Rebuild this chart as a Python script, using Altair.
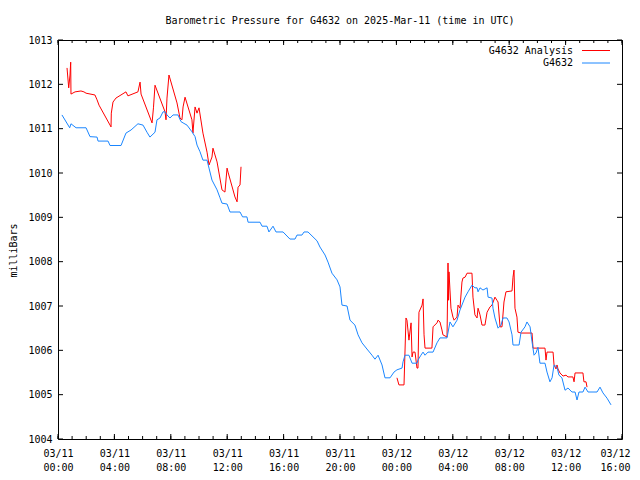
import altair as alt
import pandas as pd

# ---------------- data (hours after 2025-03-11 00:00 UTC, pressure in mb) -------------
obs_hours = [0.28, 0.83, 0.92, 1.28, 1.99, 2.27, 2.77, 2.84, 3.55, 3.69, 4.47, 4.82, 5.18, 5.67,
             6.03, 6.31, 6.52, 6.88, 7.02, 7.23, 7.45, 7.59, 7.73, 7.94, 8.16, 8.51, 8.72, 8.87,
             9.15, 9.50, 9.72, 9.86, 10.07, 10.28, 10.57, 10.71, 10.92, 11.28, 11.49, 11.63,
             11.99, 12.20, 12.91, 13.09, 13.40, 13.48, 14.33, 14.47, 14.82, 14.96, 15.25, 15.46,
             15.96, 16.45, 16.81, 16.95, 17.30, 17.45, 17.73, 18.37, 18.58, 18.94, 19.15, 19.43,
             19.79, 20.00, 20.14, 20.50, 20.71, 21.06, 21.28, 21.56, 21.91, 22.27, 22.48, 22.70,
             22.98, 23.19, 23.55, 23.83, 24.04, 24.40, 24.47, 24.61, 24.89, 25.11, 25.46, 25.53,
             25.74, 25.89, 26.03, 26.24, 26.60, 26.88, 27.09, 27.59, 27.80, 28.01, 28.30, 28.51,
             28.87, 29.08, 29.36, 29.57, 29.72, 29.79, 29.93, 30.14, 30.43, 30.50, 30.78, 30.85,
             30.99, 31.21, 31.42, 31.56, 31.84, 31.99, 32.20, 32.27, 32.70, 32.84, 33.12, 33.26,
             33.48, 33.62, 33.76, 33.90, 34.04, 34.18, 34.54, 34.68, 34.89, 35.04, 35.18, 35.39,
             35.53, 35.74, 35.96, 36.17, 36.45, 36.67, 36.81, 36.95, 37.23, 37.38, 37.59, 38.23,
             38.44, 38.65, 38.94, 39.22]
obs_press = [1011.31, 1011.02, 1011.11, 1011.02, 1011.02, 1010.82, 1010.81, 1010.72, 1010.72,
             1010.62, 1010.62, 1010.90, 1010.97, 1011.11, 1011.08, 1010.92, 1010.81, 1010.92,
             1011.20, 1011.24, 1011.38, 1011.38, 1011.31, 1011.24, 1011.31, 1011.31, 1011.16,
             1011.13, 1011.08, 1010.93, 1010.82, 1010.63, 1010.48, 1010.29, 1010.29, 1010.11,
             1009.84, 1009.62, 1009.44, 1009.32, 1009.30, 1009.12, 1009.12, 1009.01, 1009.01,
             1008.89, 1008.89, 1008.80, 1008.80, 1008.67, 1008.80, 1008.67, 1008.67, 1008.51,
             1008.51, 1008.60, 1008.60, 1008.67, 1008.67, 1008.47, 1008.33, 1008.15, 1007.99,
             1007.74, 1007.59, 1007.43, 1007.02, 1007.00, 1006.68, 1006.57, 1006.35, 1006.17,
             1006.03, 1005.89, 1005.80, 1005.89, 1005.67, 1005.38, 1005.38, 1005.51, 1005.56,
             1005.60, 1005.74, 1005.89, 1005.89, 1005.71, 1005.71, 1005.78, 1005.89, 1005.96,
             1005.89, 1005.96, 1005.96, 1006.17, 1006.28, 1006.28, 1006.64, 1006.53, 1006.68,
             1006.91, 1007.20, 1007.32, 1007.47, 1007.41, 1007.41, 1007.32, 1007.41, 1007.36,
             1007.41, 1007.20, 1007.18, 1006.95, 1006.73, 1006.50, 1006.57, 1006.73, 1006.73,
             1006.64, 1006.35, 1006.12, 1006.12, 1006.41, 1006.53, 1006.64, 1006.53, 1006.19,
             1005.89, 1005.94, 1006.07, 1005.71, 1005.71, 1005.51, 1005.29, 1005.38, 1005.67,
             1005.62, 1005.44, 1005.38, 1005.10, 1005.15, 1005.06, 1005.06, 1004.88, 1005.06,
             1005.06, 1005.17, 1005.06, 1005.06, 1005.17, 1005.04, 1004.92, 1004.77]

ana1_hours = [0.64, 0.76, 0.85, 0.90, 0.92, 1.21, 1.63, 1.84, 1.99, 2.62, 2.77, 2.91, 3.76, 3.78,
              3.90, 4.11, 4.82, 4.96, 5.67, 5.82, 5.89, 6.67, 6.77, 6.88, 7.59, 7.66, 7.73, 7.87,
              8.44, 8.65, 8.79, 8.87, 9.01, 9.50, 9.57, 9.72, 9.86, 10.00, 10.28, 10.57, 10.71,
              10.92, 10.99, 11.28, 11.63, 11.84, 11.99, 12.06, 12.55, 12.70, 12.77, 12.91, 12.98]
ana1_press = [1012.37, 1011.92, 1012.21, 1012.50, 1011.78, 1011.83, 1011.85, 1011.83, 1011.80,
              1011.76, 1011.65, 1011.53, 1011.04, 1011.35, 1011.60, 1011.69, 1011.83, 1011.74,
              1011.83, 1012.05, 1011.78, 1011.13, 1011.47, 1011.98, 1011.38, 1011.20, 1011.69,
              1012.21, 1011.58, 1011.24, 1011.20, 1011.49, 1011.71, 1011.20, 1010.90, 1011.49,
              1011.35, 1011.47, 1010.90, 1010.47, 1010.18, 1010.36, 1010.56, 1010.25, 1009.62,
              1009.57, 1010.11, 1010.02, 1009.46, 1009.35, 1009.68, 1009.73, 1010.14]

ana2_hours = [24.04, 24.18, 24.54, 24.68, 24.75, 24.89, 25.04, 25.11, 25.18, 25.32, 25.46, 25.53,
              25.60, 25.82, 25.89, 25.96, 26.03, 26.52, 26.60, 26.88, 26.95, 27.09, 27.23, 27.30,
              27.59, 27.66, 27.70, 27.73, 27.80, 27.87, 28.01, 28.09, 28.30, 28.37, 28.51, 28.65,
              28.72, 28.87, 29.01, 29.36, 29.43, 29.57, 29.72, 29.79, 29.93, 30.07, 30.28, 30.43,
              30.64, 30.78, 30.99, 31.13, 31.21, 31.35, 31.49, 31.63, 31.77, 32.20, 32.27, 32.34,
              32.41, 32.55, 32.62, 32.84, 33.62, 33.69, 34.54, 34.61, 34.68, 35.11, 35.18, 35.32,
              35.39, 35.46, 35.60, 35.82, 36.03, 36.17, 36.52, 36.60, 36.67, 37.23, 37.30, 37.45,
              37.52]
ana2_press = [1005.38, 1005.22, 1005.22, 1006.73, 1006.68, 1006.23, 1006.62, 1005.85, 1005.96,
              1005.96, 1005.60, 1005.60, 1006.86, 1007.02, 1007.16, 1006.35, 1006.05, 1006.05,
              1006.53, 1006.62, 1006.68, 1006.64, 1006.46, 1006.35, 1006.30, 1007.97, 1007.13,
              1007.77, 1007.36, 1006.95, 1006.75, 1006.68, 1006.75, 1007.02, 1006.95, 1007.54,
              1007.63, 1007.65, 1007.74, 1007.74, 1007.20, 1006.80, 1006.73, 1006.95, 1006.80,
              1006.57, 1006.57, 1006.86, 1006.98, 1007.02, 1007.20, 1007.13, 1007.09, 1006.53,
              1006.53, 1007.09, 1007.32, 1007.34, 1007.65, 1007.81, 1006.95, 1006.75, 1006.41,
              1006.39, 1006.39, 1006.05, 1006.05, 1005.78, 1005.96, 1005.96, 1005.67, 1005.58,
              1005.67, 1005.58, 1005.49, 1005.42, 1005.44, 1005.40, 1005.40, 1005.29, 1005.49,
              1005.49, 1005.29, 1005.29, 1005.17]

x_major_hours = [0, 4, 8, 12, 16, 20, 24, 28, 32, 36, 40]
x_minor_hours = [0, 1, 2, 3, 4, 5, 6, 7, 8, 9, 10, 11, 12, 13, 14, 15, 16, 17, 18, 19, 20,
                 21, 22, 23, 24, 25, 26, 27, 28, 29, 30, 31, 32, 33, 34, 35, 36, 37, 38, 39, 40]
y_ticks = [1004, 1005, 1006, 1007, 1008, 1009, 1010, 1011, 1012, 1013]

series_names = ["G4632 Analysis", "G4632"]
series_colors = ["#ff0000", "#1a86ff"]
title_text = "Barometric Pressure for G4632 on 2025-Mar-11 (time in UTC)"

# ---------------- helpers ----------------
BASE = pd.Timestamp("2025-03-11T00:00:00Z")


def iso(h):
    return (BASE + pd.to_timedelta(h, unit="h")).strftime("%Y-%m-%dT%H:%M:%SZ")


obs_df = pd.DataFrame({"t": [iso(h) for h in obs_hours], "p": obs_press})
ana_df = pd.DataFrame({
    "t": [iso(h) for h in ana1_hours] + [iso(h) for h in ana2_hours],
    "p": ana1_press + ana2_press,
    "seg": ["a"] * len(ana1_hours) + ["b"] * len(ana2_hours),
})
xmaj_df = pd.DataFrame({"t": [iso(h) for h in x_major_hours]})
xmin_df = pd.DataFrame({"t": [iso(h) for h in x_minor_hours]})
y_df = pd.DataFrame({"p": y_ticks})

W, H = 564, 399
FONT = "DejaVu Sans Mono"

x_scale = alt.Scale(type="utc", nice=False,
                    domain=[alt.DateTime(year=2025, month=3, date=11, hours=0, utc=True),
                            alt.DateTime(year=2025, month=3, date=12, hours=16, utc=True)])
y_scale = alt.Scale(domain=[1004, 1013], nice=False, zero=False)

x_axis = alt.Axis(
    values=[alt.DateTime(year=2025, month=3, date=11 + h // 24, hours=h % 24, utc=True)
            for h in x_major_hours],
    labelExpr="[utcFormat(datum.value, '%m/%d'), utcFormat(datum.value, '%H:%M')]",
    ticks=False, tickSize=0, domain=False, grid=False, title=None,
    labelFont=FONT, labelFontSize=10, labelColor="black", labelPadding=9,
    labelBaseline="top", labelLineHeight=14, labelAlign="center", labelFlush=False,
    labelOverlap=False,
    labelOffset={"condition": {"test": "datum.index >= 1", "value": -7}, "value": 0},
)
y_axis = alt.Axis(
    values=y_ticks, format="d", ticks=False, tickSize=0, domain=False, grid=False,
    labelFont=FONT, labelFontSize=10, labelColor="black", labelPadding=6,
    title="milliBars", titleFont=FONT, titleFontSize=10, titleFontWeight="normal",
    titleColor="black", titleX=-45, titleY=210, titleAngle=270, titleAlign="center",
    titleBaseline="middle",
)

x_enc = alt.X("t:T", scale=x_scale, axis=x_axis)
y_enc = alt.Y("p:Q", scale=y_scale, axis=y_axis)

ana_line = alt.Chart(ana_df).mark_line(color=series_colors[0], strokeWidth=1).encode(
    x=x_enc, y=y_enc, detail="seg:N")
obs_line = alt.Chart(obs_df).mark_line(color=series_colors[1], strokeWidth=1).encode(
    x=x_enc, y=y_enc)

tick_style = dict(color="black", strokeWidth=1)
xmaj_bot = alt.Chart(xmaj_df).mark_rule(**tick_style).encode(x=x_enc, y=alt.value(H), y2=alt.value(H - 5))
xmaj_top = alt.Chart(xmaj_df).mark_rule(**tick_style).encode(x=x_enc, y=alt.value(0), y2=alt.value(5))
xmin_bot = alt.Chart(xmin_df).mark_rule(**tick_style).encode(x=x_enc, y=alt.value(H), y2=alt.value(H - 3))
xmin_top = alt.Chart(xmin_df).mark_rule(**tick_style).encode(x=x_enc, y=alt.value(0), y2=alt.value(3))
y_left = alt.Chart(y_df).mark_rule(**tick_style).encode(y=y_enc, x=alt.value(0), x2=alt.value(5))
y_right = alt.Chart(y_df).mark_rule(**tick_style).encode(y=y_enc, x=alt.value(W), x2=alt.value(W - 5))

legend_layers = []
for i, (name, col) in enumerate(zip(series_names, series_colors)):
    ly = 10.5 + 12.5 * i
    ldf = pd.DataFrame({"label": [name]})
    legend_layers.append(
        alt.Chart(ldf).mark_text(font=FONT, fontSize=10, align="right", baseline="middle",
                                 color="black").encode(text="label:N", x=alt.value(515), y=alt.value(ly)))
    legend_layers.append(
        alt.Chart(ldf).mark_rule(color=col, strokeWidth=1).encode(
            x=alt.value(524), x2=alt.value(552), y=alt.value(ly)))

chart = alt.layer(
    xmin_bot, xmin_top, xmaj_bot, xmaj_top, y_left, y_right,
    ana_line, obs_line, *legend_layers,
).properties(
    width=W, height=H,
    title=alt.Title(title_text, font=FONT, fontSize=10, fontWeight="normal", color="black",
                    anchor="middle", offset=9),
    autosize=alt.AutoSizeParams(type="none"),
    padding={"left": 50, "top": 32, "right": 10, "bottom": 33},
    background="white",
).configure_view(stroke="black", strokeWidth=1)

chart.save("out.html", embed_options={"renderer": "svg", "actions": False})
